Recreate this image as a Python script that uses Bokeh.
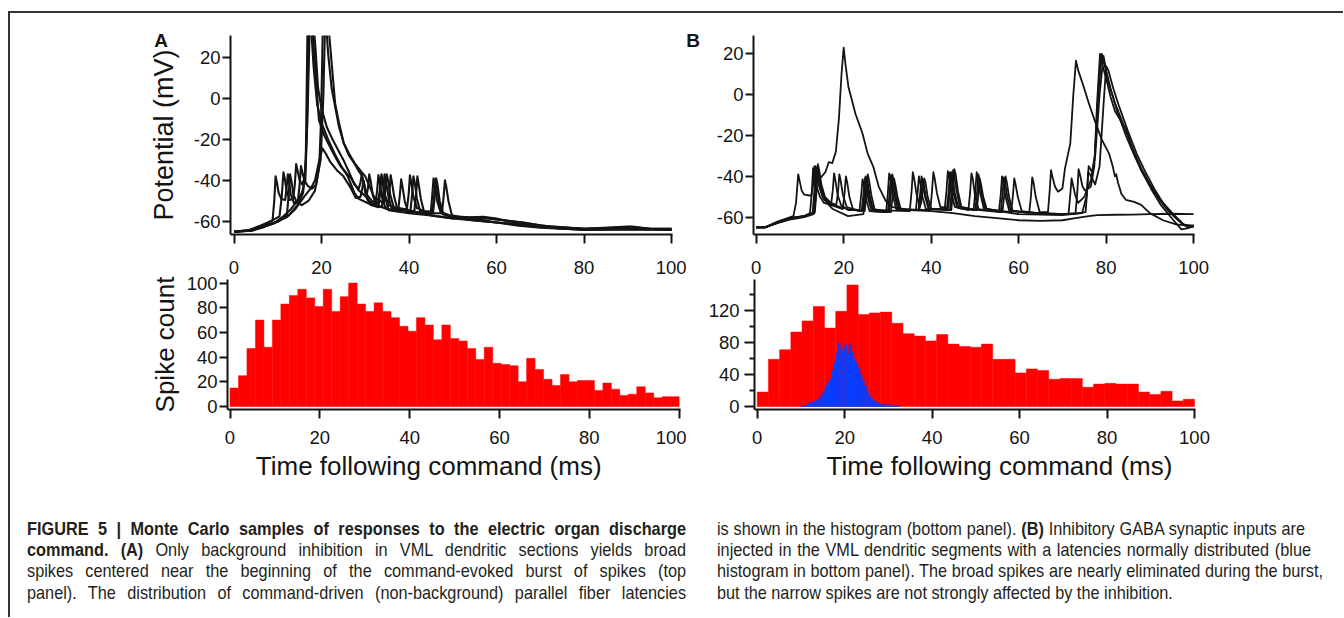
from bokeh.plotting import figure
from bokeh.layouts import row, column
from bokeh.models import Range1d, FixedTicker, Div, Spacer, CustomJSTickFormatter
from bokeh.embed import file_html
from bokeh.resources import INLINE

# ---------------- data ----------------
time_ticks = [0, 20, 40, 60, 80, 100]
potential_ticks = [-60, -40, -20, 0, 20]
count_ticks_a = [0, 20, 40, 60, 80, 100]
count_ticks_b = [0, 40, 80, 120]
count_minor_b = [20, 60, 100, 140]

hist_a_red = [15, 25, 47, 70, 48, 70, 83, 90, 95, 88, 81, 95, 77, 89, 100, 83, 77, 84, 77, 72,
              65, 61, 72, 66, 54, 66, 55, 53, 47, 38, 48, 35, 34, 33, 20, 39, 30, 22, 17, 26,
              20, 21, 21, 13, 19, 14, 9, 10, 16, 11, 7, 8, 8]
hist_b_red = [18, 59, 71, 93, 107, 125, 98, 119, 152, 115, 117, 118, 104, 91, 88, 82, 90, 78, 75, 74,
              78, 59, 59, 42, 47, 45, 34, 35, 35, 24, 28, 29, 28, 28, 18, 15, 19, 7, 9]
hist_b_blue_start = 10.0
hist_b_blue_width = 0.5
hist_b_blue = [1, 1, 2, 4, 4, 5, 7, 8, 9, 14, 19, 26, 30, 34, 45, 55, 66, 79, 72, 68,
               77, 66, 77, 68, 60, 55, 48, 40, 33, 26, 19, 13, 9, 7, 5, 4, 3, 2, 2, 2,
               2, 1, 1, 1, 1]

# membrane potential traces: (time ms, potential mV)
trace_a1 = [(0, -65), (3, -64.5), (6, -62), (8.8, -59.5), (9.2, -50), (9.5, -38), (9.8, -41), (10.2, -46),
            (10.8, -49), (11.7, -49.5), (12.0, -44), (12.3, -37), (12.6, -41), (13.0, -47), (13.7, -51),
            (14.6, -50), (15.0, -42), (15.3, -33), (15.6, -36), (16.1, -40), (16.8, -42.5), (17.8, -44),
            (18.8, -42), (19.5, -32), (19.9, -10), (20.3, 35), (21.1, 35), (21.5, 22), (22.3, 5), (23.1, -4),
            (24.0, -14), (25.1, -22), (26.3, -28), (27.6, -32), (28.5, -35.5), (29.2, -37.5), (29.7, -42),
            (30.4, -47), (31.5, -50), (32.9, -51), (33.3, -45), (33.7, -37), (34.0, -40), (34.5, -47),
            (35.3, -52), (37, -53.5), (39.5, -54), (39.9, -47), (40.2, -37.5), (40.5, -41), (41.0, -48),
            (41.8, -53.5), (43.5, -55), (45.0, -55), (45.3, -47), (45.6, -39), (45.9, -42), (46.4, -50),
            (47.2, -55.5), (50, -57.5), (54, -58), (57, -57.7), (60, -58.5), (63, -60), (66.8, -61),
            (70, -62.5), (75, -63.5), (80, -64), (85, -63.8), (90, -63), (94, -63.5), (100, -64)]
trace_a2 = [(0, -65), (4, -64), (7, -61.5), (10.4, -57.5), (10.9, -48), (11.3, -36), (11.6, -39), (12.0, -45),
            (12.7, -49.5), (13.5, -49), (13.9, -42), (14.2, -32), (14.5, -35), (15.0, -40), (15.6, -42),
            (16.2, -38), (16.7, -15), (17.1, 35), (17.9, 35), (18.4, 20), (19.4, -10.5), (20.6, -18),
            (21.9, -23.5), (23.0, -28), (24.3, -33), (25.5, -36), (26.8, -39), (28.4, -44.6), (30.2, -48),
            (30.6, -44), (30.9, -37), (31.2, -40), (31.7, -47), (32.5, -52), (35.1, -54), (35.5, -46),
            (35.8, -37.4), (36.1, -41), (36.6, -48), (37.4, -54.5), (41.2, -55), (41.6, -47), (41.9, -38),
            (42.2, -42), (42.7, -49), (43.5, -56), (47.5, -56), (47.9, -48), (48.2, -40), (48.5, -43),
            (49.0, -50), (49.8, -57), (52, -58), (56, -59), (60, -60.5), (65, -62), (70, -63), (80, -64),
            (90, -64), (100, -64)]
trace_a3 = [(0, -65), (4, -64.5), (7, -62.5), (9, -61), (11, -58), (13, -54), (14.5, -50), (15.5, -46),
            (16.3, -40), (16.9, 0), (17.3, 35), (18.2, 35), (18.6, 25), (19.2, 5), (20.0, -5), (21.2, -14),
            (22.5, -20), (24.0, -26), (25.0, -30), (26.3, -36), (27.5, -42), (28.5, -44), (28.9, -41),
            (29.2, -37), (29.5, -40), (30.0, -46), (30.8, -50), (32.3, -52), (32.7, -45), (33.0, -37.4),
            (33.3, -41), (33.8, -48), (34.6, -53.5), (37.5, -55), (37.9, -47), (38.2, -39.5), (38.5, -43),
            (39.0, -50), (39.8, -55.5), (45.5, -55.5), (45.9, -47), (46.2, -39), (46.5, -42), (47.0, -50),
            (47.8, -56), (50, -58), (55, -59.5), (60, -60.5), (65, -61.5), (70, -62.5), (80, -63.5),
            (90, -62.5), (95, -63.5), (100, -63.5)]
trace_a4 = [(0, -65), (4, -64), (7, -62), (10, -60), (12.1, -56.5), (12.5, -47), (12.8, -37), (13.1, -40),
            (13.6, -47), (14.4, -51), (15.5, -52), (17, -50), (18.5, -45), (19.8, -30), (20.4, 0), (20.8, 35),
            (21.6, 35), (22.0, 25), (23.1, -2.4), (24.0, -12), (25.1, -22), (26.3, -27), (27.6, -31.7),
            (29, -35.5), (30.0, -38), (31.0, -43), (32, -48), (34.2, -51), (34.6, -44), (34.9, -37),
            (35.2, -40), (35.7, -47), (36.5, -53), (41, -55), (45, -57), (50, -58.5), (56, -58), (60, -59),
            (66, -60.5), (72, -62.5), (80, -63.5), (88, -63), (91, -62.5), (95, -63.5), (100, -64)]
trace_a5 = [(0, -65), (3, -64.5), (6, -63), (9, -61), (12, -58), (14, -54), (16, -48), (17.5, -44),
            (18.5, -40), (19.5, -30), (20.2, -24.4), (21, -27), (22, -31), (23.5, -35), (25, -38), (26.5, -43),
            (27.8, -48.5), (28.9, -48), (29.3, -44), (29.6, -40), (29.9, -43), (30.4, -49), (31.3, -52),
            (33.0, -53), (33.4, -46), (33.7, -38), (34.0, -41), (34.5, -48), (35.3, -54.5), (40, -56),
            (45, -57), (50, -58.5), (55, -59.5), (60, -60.5), (66, -61.5), (72, -63), (80, -64), (90, -63.8),
            (100, -64)]
trace_a6 = [(0, -65), (4, -64.5), (7, -62.5), (10, -60), (12.5, -57), (14.5, -52), (15.8, -46), (16.4, -30),
            (16.8, 35), (17.6, 35), (18.2, 15), (19.0, -3), (20, -12), (21.5, -20), (23, -27), (24.5, -33),
            (26, -38), (27.5, -46), (28.5, -49), (31, -51.5), (33.8, -53), (34.1, -46), (34.4, -37),
            (34.7, -40), (35.2, -47), (36.0, -53.5), (40.3, -55), (40.7, -47), (41.0, -38), (41.3, -41),
            (41.8, -49), (42.6, -55.5), (45.3, -56), (45.7, -48), (46.0, -39.5), (46.3, -42), (46.8, -50),
            (47.7, -56.5), (50, -58), (55, -58.5), (58, -58.5), (62, -59.5), (66, -60.5), (70, -62),
            (80, -63.5), (90, -63.5), (100, -63.5)]

trace_b1 = [(0, -65), (2, -65), (5, -62), (8.5, -59.5), (9.1, -53), (9.6, -39), (9.9, -42), (10.4, -47),
            (11.0, -49), (12.6, -49.5), (13.0, -44), (13.3, -35), (13.6, -37), (14.1, -40), (14.8, -40.5),
            (15.8, -38), (16.6, -33), (17.4, -33.5), (18.2, -28), (18.9, -12), (19.5, 10), (20.0, 23),
            (20.4, 15), (21.1, 3.6), (22.7, -9.5), (24.3, -19), (25.5, -29), (26.8, -35.5), (28, -45),
            (29.6, -52), (31, -55), (35, -56.5), (40, -57), (45, -58), (50, -59.5), (55, -60.5), (60, -61.5),
            (65, -61.8), (70, -61.5), (73, -60.5), (76, -59.5), (78, -59), (82, -58.8), (86, -58.7),
            (90, -58.5), (95, -58.3), (100, -58.5)]
trace_b2 = [(0, -65), (2, -65), (5, -62.5), (8, -60.5), (11, -59.5), (12.3, -58), (12.7, -48), (13.0, -36),
            (13.3, -39), (13.8, -45), (14.6, -50), (15.5, -53), (17.1, -54), (17.5, -47), (17.8, -38.5),
            (18.1, -42), (18.6, -49), (19.4, -54), (21, -56.5), (24.3, -56.5), (24.7, -48), (25.0, -40),
            (25.3, -43), (25.8, -50), (26.6, -56), (30.4, -57), (30.8, -48), (31.1, -39), (31.4, -42),
            (31.9, -49), (32.7, -56), (37.1, -56.5), (37.5, -48), (37.8, -40), (38.1, -43), (38.6, -50),
            (39.4, -56), (43.6, -56), (44.0, -47), (44.3, -38), (44.6, -41), (45.1, -48), (45.9, -55),
            (49.7, -56.5), (50.1, -47), (50.4, -38), (50.7, -41), (51.2, -48), (52.0, -55.5), (55.5, -57),
            (55.9, -49), (56.2, -40), (56.5, -43), (57.0, -50), (57.8, -56.5), (62.4, -58), (62.8, -50),
            (63.1, -40.5), (63.4, -43), (63.9, -50), (64.8, -57.5), (66.7, -57.5), (67.1, -47), (67.4, -37),
            (67.7, -40), (68.3, -45), (69.0, -47.5), (70.0, -46), (70.6, -36), (71.2, -30), (71.8, -24),
            (72.5, 0), (73.1, 16.6), (73.6, 12), (74.9, 3.6), (76, -4), (77.4, -12.7), (79, -22), (80.7, -29),
            (81.5, -35), (82.0, -40), (82.3, -39), (82.7, -43), (83.5, -48.6), (84.5, -51.5), (86.4, -52.5),
            (88, -54), (90, -58), (93, -61.5), (96, -63.5), (100, -64.5)]
trace_b3 = [(0, -65), (2, -65), (5, -62.3), (8, -60.3), (11, -59.3), (13.4, -57.5), (13.8, -47), (14.1, -34),
            (14.4, -37), (14.9, -44), (15.7, -50), (17, -53), (18.3, -54), (18.7, -48), (19.0, -39), (19.3, -42),
            (19.8, -49), (20.7, -55), (23.6, -57), (24.0, -49), (24.3, -41.5), (24.6, -44), (25.1, -51),
            (25.9, -57), (29.7, -57.5), (30.1, -48), (30.4, -38.5), (30.7, -41), (31.2, -49), (32.0, -56),
            (36.5, -56.5), (36.9, -48), (37.2, -40), (37.5, -43), (38.0, -50), (38.8, -56), (43.1, -56),
            (43.5, -47), (43.8, -37.5), (44.1, -40), (44.6, -48), (45.4, -55), (48.5, -56.5), (48.9, -48),
            (49.2, -38.5), (49.5, -41), (50.0, -49), (50.8, -56), (56.3, -57.5), (56.7, -49), (57.0, -40),
            (57.3, -43), (57.8, -50), (58.6, -57), (65, -58), (70, -58.5), (73.0, -58), (73.4, -48),
            (73.7, -36.5), (74.0, -39), (74.6, -45), (75.2, -47), (76.5, -45), (77.3, -35), (77.9, -5),
            (78.6, 20), (79.2, 14), (80, 8), (81, -1), (82, -8), (84.7, -17.6), (86, -27), (88, -37), (90, -44),
            (91.3, -48.6), (93, -53), (95.3, -58.4), (97.5, -63), (98.6, -65), (100, -64.5)]
trace_b4 = [(0, -65), (2, -65), (5, -62.7), (8, -60.8), (11, -59.6), (12.9, -58), (13.3, -47), (13.6, -35),
            (13.9, -38), (14.4, -45), (15.2, -50), (17, -54), (19.8, -56), (20.2, -48), (20.5, -40), (20.8, -43),
            (21.3, -50), (22.1, -56), (24.8, -57), (25.2, -48), (25.5, -39), (25.8, -42), (26.3, -49),
            (27.1, -56.5), (35.1, -57), (35.5, -48), (35.8, -38), (36.1, -41), (36.6, -48), (37.4, -55),
            (37.7, -53), (38.1, -47), (38.4, -41), (38.7, -43), (39.2, -50), (40.0, -56), (44.6, -56.5),
            (45.0, -47), (45.3, -36.5), (45.6, -39), (46.1, -47), (46.9, -55), (50.4, -56.5), (50.8, -49),
            (51.1, -41), (51.4, -44), (51.9, -50), (52.7, -56), (58.3, -57.5), (58.7, -49), (59.0, -41),
            (59.3, -44), (59.8, -50), (60.7, -57), (66, -58.5), (72, -58.5), (75.3, -57.5), (75.7, -46),
            (76.0, -35), (76.3, -36), (76.8, -38), (77.4, -30), (78.2, 0), (79.0, 20), (79.6, 15), (80.5, 6),
            (82, -4), (84, -15), (86, -26), (88, -36), (90, -44), (92, -51), (94, -56.5), (96.5, -61.5),
            (98, -64), (100, -64)]
trace_b5 = [(0, -65), (2, -65), (5, -62.5), (8, -60.5), (11, -59.5), (13.3, -58), (13.7, -48), (14.0, -36),
            (14.3, -39), (14.8, -45), (15.6, -50), (17.5, -54), (21, -56), (24.1, -57), (24.5, -49), (24.8, -41),
            (25.1, -44), (25.6, -51), (26.4, -57), (30.1, -57.5), (30.5, -48), (30.8, -39.5), (31.1, -42),
            (31.6, -49), (32.4, -56), (39.8, -56.5), (40.2, -47), (40.5, -38), (40.8, -41), (41.3, -48),
            (42.1, -55), (43.9, -55.5), (44.3, -47), (44.6, -38), (44.9, -41), (45.4, -48), (46.2, -55.5),
            (55.9, -57.5), (56.3, -49), (56.6, -40.5), (56.9, -43), (57.4, -50), (58.2, -57), (64, -58),
            (71.4, -58.5), (71.8, -49), (72.1, -41), (72.4, -44), (72.9, -49), (73.6, -53), (75, -50),
            (76.5, -42), (77.5, -30), (78.5, 0), (79.4, 19), (80, 12), (81, 3), (82.5, -8), (84.5, -20),
            (86.5, -30), (88.5, -39), (90.5, -47), (92.5, -54), (95, -60.5), (97.2, -66), (98.5, -65.5),
            (100, -64.5)]
trace_b6 = [(0, -65), (2, -65), (5, -62.8), (8, -61), (11, -60), (13.1, -58.5), (13.5, -48), (13.8, -37),
            (14.1, -40), (14.6, -46), (15.4, -51), (17.5, -56), (21, -59.5), (24.5, -58.5), (24.9, -49),
            (25.2, -40.5), (25.5, -43), (26.0, -50), (26.8, -57), (30.8, -57.5), (31.2, -49), (31.5, -41),
            (31.8, -44), (32.3, -50), (33.1, -56.5), (37.3, -56.5), (37.7, -49), (38.0, -41.5), (38.3, -44),
            (38.8, -50), (39.6, -56), (44.3, -56.5), (44.7, -47), (45.0, -37), (45.3, -40), (45.8, -47),
            (46.6, -55.5), (50.1, -56.5), (50.5, -48), (50.8, -39), (51.1, -42), (51.6, -49), (52.4, -56),
            (60, -58.5), (70, -59), (74.5, -58), (75.5, -50), (75.9, -38), (76.3, -39), (76.8, -41),
            (77.5, -44), (78.5, -35), (79.4, -5), (80.0, 14), (80.5, 12), (81.5, 4), (83, -6), (85, -18),
            (87, -29), (89, -38), (91, -46), (93, -53), (95.5, -59.5), (97.5, -63.5), (100, -64.5)]

traces_a = [trace_a1, trace_a2, trace_a3, trace_a4, trace_a5, trace_a6]
traces_b = [trace_b1, trace_b2, trace_b3, trace_b4, trace_b5, trace_b6]

panel_labels = ["A", "B"]
x_title = "Time following command (ms)"
y_title_top = "Potential (mV)"
y_title_bottom = "Spike count"

caption_left = [
    "<b>FIGURE 5 | Monte Carlo samples of responses to the electric organ discharge</b>",
    "<b>command. (A)</b> Only background inhibition in VML dendritic sections yields broad",
    "spikes centered near the beginning of the command-evoked burst of spikes (top",
    "panel). The distribution of command-driven (non-background) parallel fiber latencies",
]
caption_right = [
    "is shown in the histogram (bottom panel). <b>(B)</b> Inhibitory GABA synaptic inputs are",
    "injected in the VML dendritic segments with a latencies normally distributed (blue",
    "histogram in bottom panel). The broad spikes are nearly eliminated during the burst,",
    "but the narrow spikes are not strongly affected by the inhibition.",
]

# ---------------- styling helpers ----------------
INK = "#141414"
FONT = "Liberation Sans"
RED = "#ff0000"
BLUE = "#0a3cff"
PLAIN = CustomJSTickFormatter(code="return String(tick);")
NBSP = "\u00a0"


def base_fig(width, height, xr, yr, left, right, top, bottom):
    p = figure(width=width, height=height, x_range=Range1d(*xr), y_range=Range1d(*yr),
               output_backend="svg", toolbar_location=None,
               min_border_left=left, min_border_right=right,
               min_border_top=top, min_border_bottom=bottom)
    p.outline_line_color = None
    p.xgrid.visible = False
    p.ygrid.visible = False
    p.background_fill_color = None
    p.border_fill_color = None
    return p


def style_axis(ax, ticks, tick_out, standoff, title=None, title_standoff=0, minor=None,
               title_size="26px"):
    ax.ticker = FixedTicker(ticks=ticks, minor_ticks=minor or [])
    ax.formatter = PLAIN
    ax.axis_line_width = 2
    ax.axis_line_color = INK
    ax.major_tick_line_width = 2
    ax.major_tick_line_color = INK
    ax.major_tick_out = tick_out
    ax.major_tick_in = 0
    ax.minor_tick_line_width = 2
    ax.minor_tick_line_color = INK
    ax.minor_tick_out = 5
    ax.minor_tick_in = 0
    ax.major_label_text_font = FONT
    ax.major_label_text_font_size = "18.5px"
    ax.major_label_text_color = INK
    ax.major_label_standoff = standoff
    if title:
        ax.axis_label = title
        ax.axis_label_text_font = FONT
        ax.axis_label_text_font_size = title_size
        ax.axis_label_text_font_style = "normal"
        ax.axis_label_text_color = INK
        ax.axis_label_standoff = title_standoff


def add_traces(p, traces, width):
    xs = [[pt[0] for pt in tr] for tr in traces]
    ys = [[pt[1] for pt in tr] for tr in traces]
    p.multi_line(xs=xs, ys=ys, line_color=INK, line_width=width, line_join="round")


def add_hist(p, counts, start, width, color):
    n = len(counts)
    left = [start + i * width for i in range(n)]
    right = [start + (i + 1) * width for i in range(n)]
    p.quad(left=left, right=right, bottom=0, top=counts, fill_color=color,
           line_color=color, line_width=0.5)


# Figures in one row share the top and bottom of their frames, so each row
# uses one frame band and the ranges put the ticks where the original has them.

# ---------------- panel A, top ----------------
a_top = base_fig(676, 314, (-0.8, 100.2), (-66.33, 30.56), 220, 14, 22, 93)
add_traces(a_top, traces_a, 2.1)
style_axis(a_top.xaxis[0], time_ticks, 9, 17)
style_axis(a_top.yaxis[0], potential_ticks, 8, 2, y_title_top, 12, title_size="27px")

# ---------------- panel B, top ----------------
b_top = base_fig(657, 314, (-0.62, 100.2), (-68.47, 28.96), 67, 149, 22, 93)
add_traces(b_top, traces_b, 1.8)
style_axis(b_top.xaxis[0], time_ticks, 9, 17)
style_axis(b_top.yaxis[0], potential_ticks, 8, 2)

# ---------------- panel A, bottom ----------------
# trailing no-break spaces move the centred title left, as in the original
a_bot = base_fig(676, 270, (-0.56, 100.3), (-2.43, 102.9), 217, 6, 17, 123)
add_hist(a_bot, hist_a_red, 0.0, 100.0 / len(hist_a_red), RED)
style_axis(a_bot.xaxis[0], time_ticks, 9, 12, x_title + NBSP * 7, 4)
style_axis(a_bot.yaxis[0], count_ticks_a, 8, 2, y_title_bottom, 4)

# ---------------- panel B, bottom ----------------
# the frame reaches past 100 ms so that the axis title sits where the original has it;
# the axis line itself is bounded to the data span
b_bot = base_fig(657, 270, (-0.62, 111.43), (-3.75, 158.75), 68, 99, 17, 123)
add_hist(b_bot, hist_b_red, 0.0, 100.0 / len(hist_b_red), RED)
add_hist(b_bot, hist_b_blue, hist_b_blue_start, hist_b_blue_width, BLUE)
style_axis(b_bot.xaxis[0], time_ticks, 9, 12, x_title, 4)
b_bot.xaxis[0].bounds = (-0.62, 100.2)
style_axis(b_bot.yaxis[0], count_ticks_b, 10, 5, minor=count_minor_b)

# ---------------- panel letters (overlay) ----------------
letters_html = ('<div style="position:relative;width:1333px;height:40px;font-family:\'Liberation Sans\',Arial,'
                'sans-serif;font-weight:bold;font-size:19px;line-height:19px;color:#141414;">'
                f'<span style="position:absolute;left:151px;top:27px;transform:translate(-50%,-50%);">{panel_labels[0]}</span>'
                f'<span style="position:absolute;left:683px;top:27px;transform:translate(-50%,-50%);">{panel_labels[1]}</span>'
                '</div>')
letters = Div(text=letters_html, width=1333, height=40, margin=(0, 0, 0, 0))

# ---------------- caption ----------------
K = 0.88
left_x, right_x = 17, 707
line_tops = [10.8, 32.1, 53.4, 74.8]
left_widths = [659, 659, 659, 659]
right_widths = [588, 594, 606, None]


def html_line(x, top, width, content):
    if width is None:
        align = "text-align:left;"
        w = 800
    else:
        align = "text-align:justify;text-align-last:justify;"
        w = width / K
    return (f'<div style="position:absolute;left:{x}px;top:{top}px;width:{w:.1f}px;'
            f'transform:scaleX({K});transform-origin:0 0;white-space:nowrap;{align}'
            f'line-height:21.5px;">{content}</div>')


cap = ['<div style="position:relative;width:1333px;height:110px;font-family:\'Liberation Sans\',Arial,'
       'sans-serif;font-size:18.5px;color:#231f20;">']
for content, top, w in zip(caption_left, line_tops, left_widths):
    cap.append(html_line(left_x, top, w, content))
for content, top, w in zip(caption_right, line_tops, right_widths):
    cap.append(html_line(right_x, top, w, content))
cap.append("</div>")
caption = Div(text="".join(cap), width=1333, height=110, margin=(-25, 0, 0, 0))

# ---------------- frame lines & layout ----------------
hline = Div(text="", width=1333, height=2, margin=(0, 0, 0, 0), styles={"background-color": "#333333"})
vline = Div(text="", width=2, height=606, margin=(0, 0, 0, 0), styles={"background-color": "#333333"})

top_row = row(a_top, b_top, margin=(-40, 0, 0, 0))
bottom_row = row(a_bot, b_bot, margin=(-65, 0, 0, 0))
inner = column(hline, letters, top_row, bottom_row, caption)
root = column(Spacer(width=1343, height=11, margin=(0, 0, 0, 0)),
              row(Spacer(width=8, height=606, margin=(0, 0, 0, 0)), vline, inner))

open("out.html", "w").write(file_html(root, INLINE))
